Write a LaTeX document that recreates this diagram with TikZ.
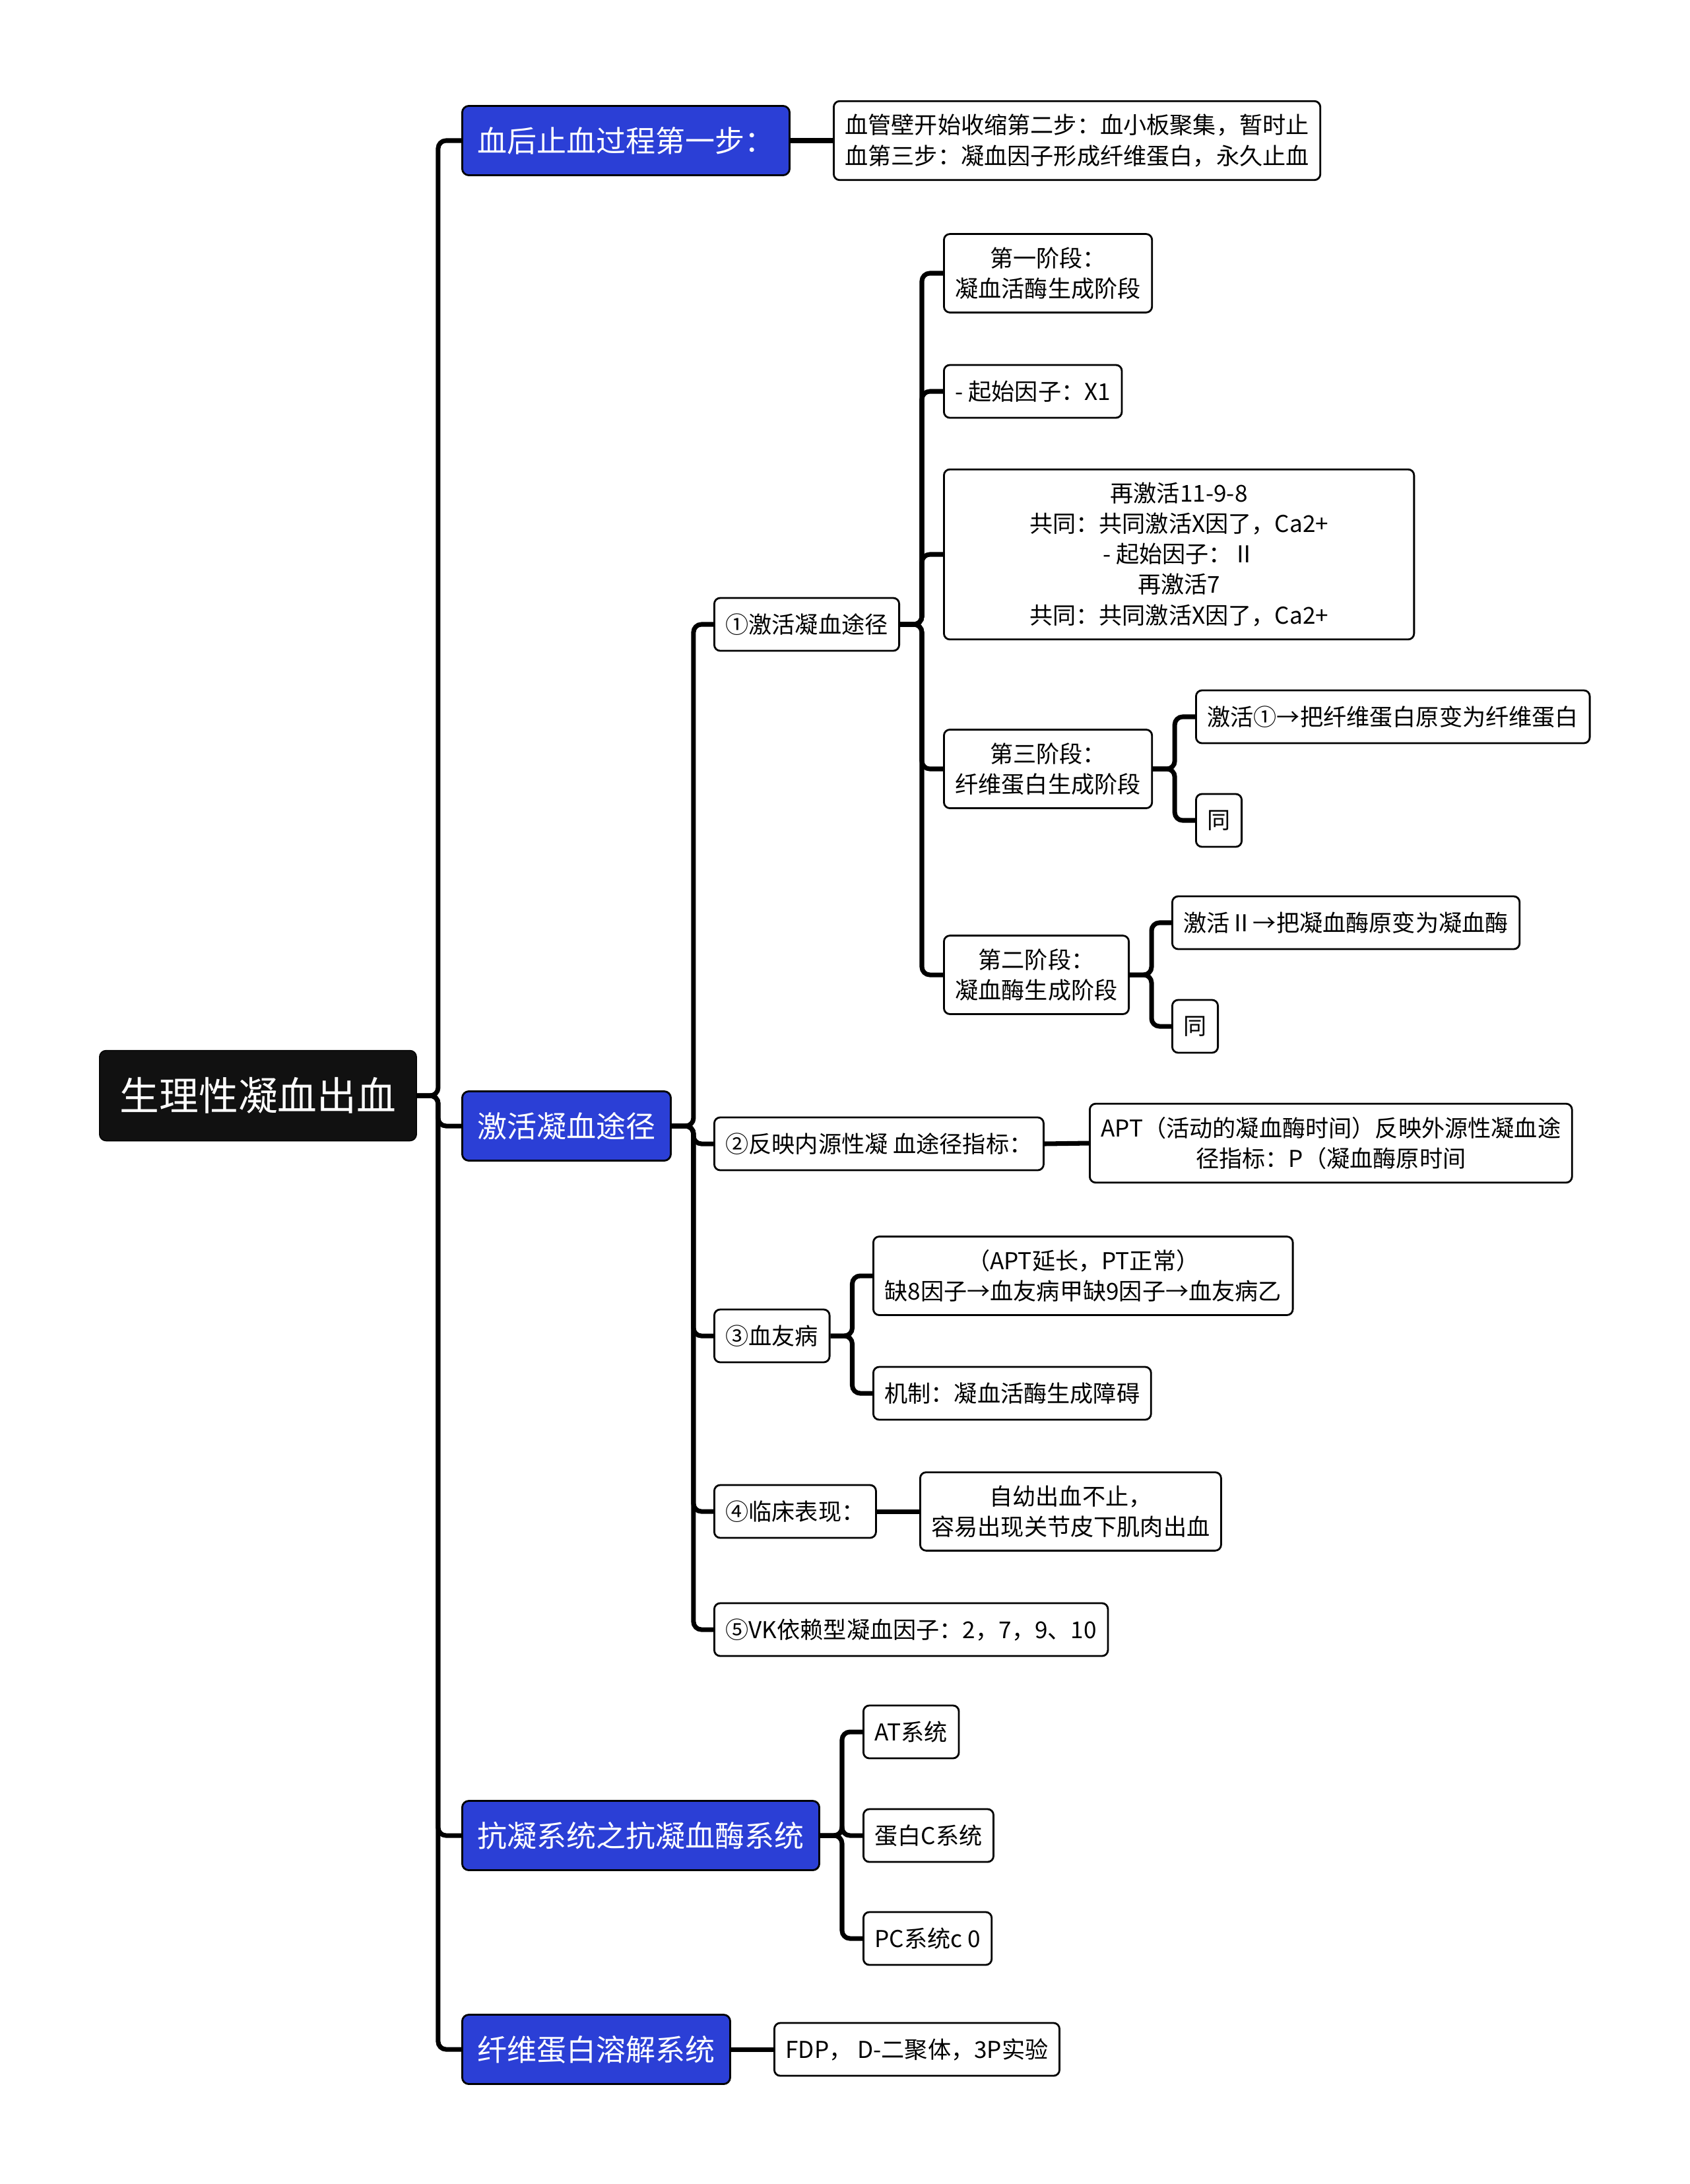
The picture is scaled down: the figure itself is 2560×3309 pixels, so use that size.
\documentclass[tikz,border=0pt]{standalone}
\usepackage{fontspec}
\newfontfamily\cjk{Noto Sans CJK SC}

\definecolor{topicblue}{HTML}{2B3FD6}
\definecolor{rootblack}{HTML}{111111}

\tikzset{
  rootbox/.style={fill=rootblack, draw=black, text=white, rounded corners=0.1cm,
    font=\cjk\fontsize{17}{21}\selectfont, inner xsep=0.31cm, minimum height=1.37cm, anchor=west},
  topicbox/.style={fill=topicblue, draw=black, line width=0.8pt, text=white, rounded corners=0.1cm,
    font=\cjk\fontsize{12.8}{16}\selectfont, inner xsep=0.23cm, minimum height=1.05cm, anchor=west},
  leafbox/.style={fill=white, draw=black, line width=0.8pt, rounded corners=0.09cm,
    font=\cjk\fontsize{10}{13.1}\selectfont, align=center, inner xsep=0.17cm, inner ysep=0.2cm,
    minimum height=0.8cm, anchor=west},
  link/.style={line width=2pt, rounded corners=0.12cm},
}

\begin{document}
\begin{tikzpicture}[x=0.01cm,y=-0.01cm]

    \useasboundingbox[fill=white] (0,0) rectangle (2560,3309);

    % ============================================
    % ROOT AND MAIN TOPICS
    % ============================================

    \node[rootbox] (root) at (150,1660) {生理性凝血出血};

    \node[topicbox] (stop) at (699,213) {血后止血过程第一步：};
    \node[topicbox] (path) at (699,1706) {激活凝血途径};
    \node[topicbox] (anti) at (699,2781) {抗凝系统之抗凝血酶系统};
    \node[topicbox] (lysis) at (699,3105) {纤维蛋白溶解系统};

    % ============================================
    % FIRST STEP
    % ============================================

    \node[leafbox] (steps) at (1262,213)
        {血管壁开始收缩第二步：血小板聚集，暂时止\\血第三步：凝血因子形成纤维蛋白，永久止血};

    % ============================================
    % ACTIVATION PATHWAY
    % ============================================

    \node[leafbox] (act) at (1081,946) {①激活凝血途径};
    \node[leafbox] (index) at (1081,1733) {②反映内源性凝 血途径指标：};
    \node[leafbox] (hemo) at (1081,2024) {③血友病};
    \node[leafbox] (clinic) at (1081,2290) {④临床表现：};
    \node[leafbox] (vk) at (1081,2469) {⑤VK依赖型凝血因子：2，7，9、10};

    % stages of the pathway
    \node[leafbox] (stA) at (1429,414) {第一阶段：\\凝血活酶生成阶段};
    \node[leafbox] (startX) at (1429,593) {- 起始因子：X1};
    \node[leafbox, minimum width=7.12cm] (again) at (1429,840)
        {再激活11-9-8\\共同：共同激活X因了，Ca2+\\- 起始因子：Ⅱ\\再激活7\\共同：共同激活X因了，Ca2+};
    \node[leafbox] (stC) at (1429,1165) {第三阶段：\\纤维蛋白生成阶段};
    \node[leafbox] (stB) at (1429,1477) {第二阶段：\\凝血酶生成阶段};

    \node[leafbox] (fibrin) at (1811,1086) {激活①→把纤维蛋白原变为纤维蛋白};
    \node[leafbox] (sameC) at (1811,1243) {同};
    \node[leafbox] (thromb) at (1775,1398) {激活Ⅱ→把凝血酶原变为凝血酶};
    \node[leafbox] (sameB) at (1775,1555) {同};

    % indices, hemophilia, clinic
    \node[leafbox] (apt) at (1650,1732)
        {APT（活动的凝血酶时间）反映外源性凝血途\\径指标：P（凝血酶原时间};
    \node[leafbox] (lack) at (1322,1933)
        {（APT延长，PT正常）\\缺8因子→血友病甲缺9因子→血友病乙};
    \node[leafbox] (mech) at (1322,2111) {机制：凝血活酶生成障碍};
    \node[leafbox] (bleed) at (1393,2290) {自幼出血不止，\\容易出现关节皮下肌肉出血};

    % ============================================
    % ANTICOAGULATION AND FIBRINOLYSIS
    % ============================================

    \node[leafbox] (at) at (1307,2624) {AT系统};
    \node[leafbox] (protc) at (1307,2781) {蛋白C系统};
    \node[leafbox] (pc) at (1307,2937) {PC系统c 0};

    \node[leafbox] (fdp) at (1172,3105) {FDP， D-二聚体，3P实验};

    % ============================================
    % CONNECTORS
    % ============================================

    \draw[link] (root.east) -- ++(32,0) |- (stop.west);
    \draw[link] (root.east) -- ++(32,0) |- (path.west);
    \draw[link] (root.east) -- ++(32,0) |- (anti.west);
    \draw[link] (root.east) -- ++(32,0) |- (lysis.west);

    \draw[link] (stop.east) -- (steps.west);

    \draw[link] (path.east) -- ++(33,0) |- (act.west);
    \draw[link] (path.east) -- ++(33,0) |- (index.west);
    \draw[link] (path.east) -- ++(33,0) |- (hemo.west);
    \draw[link] (path.east) -- ++(33,0) |- (clinic.west);
    \draw[link] (path.east) -- ++(33,0) |- (vk.west);

    \draw[link] (act.east) -- ++(33,0) |- (stA.west);
    \draw[link] (act.east) -- ++(33,0) |- (startX.west);
    \draw[link] (act.east) -- ++(33,0) |- (again.west);
    \draw[link] (act.east) -- ++(33,0) |- (stC.west);
    \draw[link] (act.east) -- ++(33,0) |- (stB.west);

    \draw[link] (stC.east) -- ++(33,0) |- (fibrin.west);
    \draw[link] (stC.east) -- ++(33,0) |- (sameC.west);
    \draw[link] (stB.east) -- ++(33,0) |- (thromb.west);
    \draw[link] (stB.east) -- ++(33,0) |- (sameB.west);

    \draw[link] (index.east) -- (apt.west);
    \draw[link] (hemo.east) -- ++(33,0) |- (lack.west);
    \draw[link] (hemo.east) -- ++(33,0) |- (mech.west);
    \draw[link] (clinic.east) -- (bleed.west);

    \draw[link] (anti.east) -- ++(33,0) |- (at.west);
    \draw[link] (anti.east) -- ++(33,0) |- (protc.west);
    \draw[link] (anti.east) -- ++(33,0) |- (pc.west);
    \draw[link] (lysis.east) -- (fdp.west);

\end{tikzpicture}
\end{document}
